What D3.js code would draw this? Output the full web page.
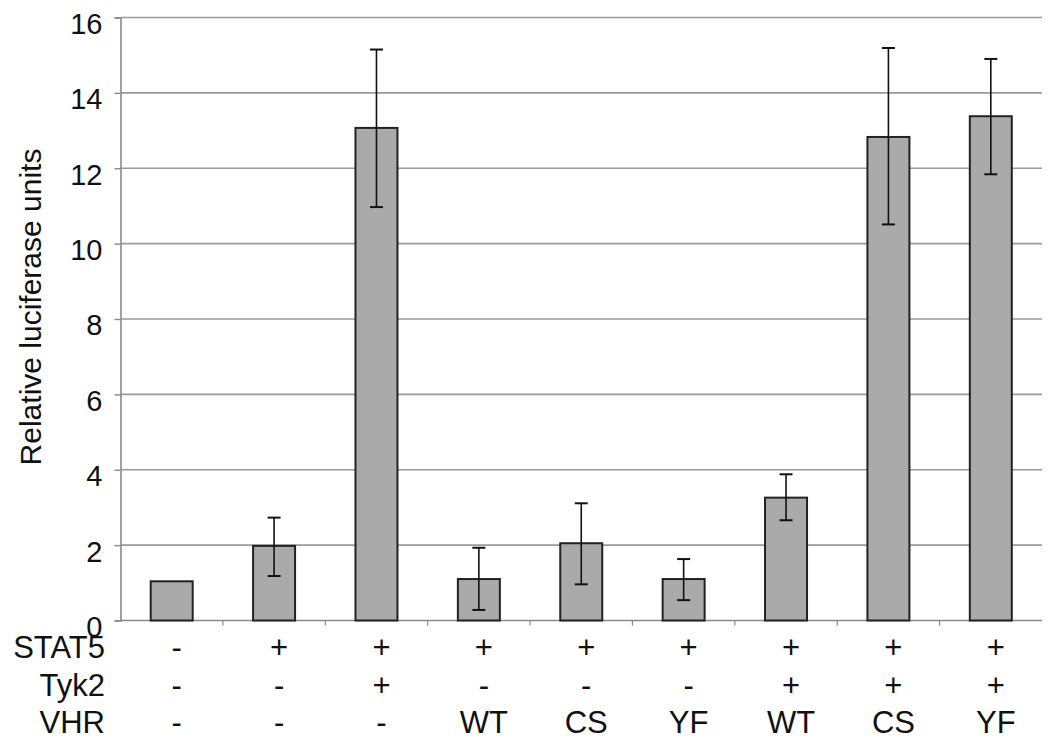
<!DOCTYPE html>
<html>
<head>
<meta charset="utf-8">
<script src="https://cdn.jsdelivr.net/npm/d3@7"></script>
<style>
  body { margin: 0; background: #fff; }
  text { font-family: "Liberation Sans", Arial, sans-serif; fill: #111; }
</style>
</head>
<body>
<div id="chart"></div>
<script>

// values

var conditions = ["c1", "c2", "c3", "c4", "c5", "c6", "c7", "c8", "c9"];
var means = [1.04, 1.98, 13.07, 1.10, 2.05, 1.10, 3.26, 12.83, 13.38];
var errLow = [null, 1.18, 10.97, 0.28, 0.96, 0.54, 2.66, 10.51, 11.84];
var errHigh = [null, 2.73, 15.15, 1.93, 3.11, 1.63, 3.88, 15.19, 14.90];

var rowNames = ["STAT5", "Tyk2", "VHR"];
var stat5 = ["-", "+", "+", "+", "+", "+", "+", "+", "+"];
var tyk2 = ["-", "-", "+", "-", "-", "-", "+", "+", "+"];
var vhr = ["-", "-", "-", "WT", "CS", "YF", "WT", "CS", "YF"];

var yTicks = [0, 2, 4, 6, 8, 10, 12, 14, 16];

// chart size

var svgWidth = 1050;
var svgHeight = 742;

var margin = { top: 17.5, right: 8, bottom: 121.5, left: 120.5 };

var width = svgWidth - margin.left - margin.right;
var height = svgHeight - margin.top - margin.bottom;

var svg = d3.select("#chart")
  .append("svg")
  .attr("width", svgWidth)
  .attr("height", svgHeight);

var chartGroup = svg.append("g")
  .attr("transform", `translate(${margin.left}, ${margin.top})`);

// scales

var xBandScale = d3.scaleBand()
  .domain(conditions)
  .range([0, width])
  .paddingInner(0.59)
  .paddingOuter(0.295);

var yLinearScale = d3.scaleLinear()
  .domain([0, 16])
  .range([height, 0]);

// gridlines

chartGroup.append("g")
  .selectAll("line")
  .data(yTicks.filter(d => d > 0))
  .enter()
  .append("line")
  .attr("x1", 0)
  .attr("x2", width)
  .attr("y1", d => yLinearScale(d))
  .attr("y2", d => yLinearScale(d))
  .attr("stroke", "#9a9a9a")
  .attr("stroke-width", 1.6);

// y axis

var leftAxis = d3.axisLeft(yLinearScale)
  .tickValues(yTicks)
  .tickSize(6)
  .tickPadding(18);

var yAxis = chartGroup.append("g").call(leftAxis);
yAxis.select(".domain").attr("stroke", "#8a8a8a").attr("stroke-width", 1.6);
yAxis.selectAll(".tick line").attr("stroke", "#8a8a8a").attr("stroke-width", 1.4);
yAxis.selectAll(".tick text")
  .attr("dy", "0.55em")
  .attr("x", -18)
  .style("font-size", "29px")
  .style("font-family", "'Liberation Sans', Arial, sans-serif")
  .attr("fill", "#111");

// x axis with ticks at band edges

var xAxisGroup = chartGroup.append("g")
  .attr("transform", `translate(0, ${height})`);

xAxisGroup.append("line")
  .attr("x1", 0)
  .attr("x2", width)
  .attr("stroke", "#8a8a8a")
  .attr("stroke-width", 1.6);

xAxisGroup.selectAll(".edge")
  .data(conditions.slice(1))
  .enter()
  .append("line")
  .attr("class", "edge")
  .attr("x1", d => xBandScale(d) - xBandScale.step() * xBandScale.paddingInner() / 2)
  .attr("x2", d => xBandScale(d) - xBandScale.step() * xBandScale.paddingInner() / 2)
  .attr("y1", 0)
  .attr("y2", 5)
  .attr("stroke", "#8a8a8a")
  .attr("stroke-width", 1.2);

// bars

chartGroup.selectAll("rect.bar")
  .data(means)
  .enter()
  .append("rect")
  .attr("class", "bar")
  .attr("x", (d, i) => xBandScale(conditions[i]))
  .attr("y", d => yLinearScale(d))
  .attr("width", xBandScale.bandwidth())
  .attr("height", d => height - yLinearScale(d))
  .attr("fill", "#aaaaaa")
  .attr("stroke", "#222")
  .attr("stroke-width", 2);

// error bars

var errGroup = chartGroup.append("g")
  .attr("stroke", "#111")
  .attr("stroke-width", 1.6);

var capHalf = 6.5;

conditions.forEach(function(c, i) {
  if (errLow[i] === null) return;
  var cx = xBandScale(c) + xBandScale.bandwidth() / 2;
  errGroup.append("line")
    .attr("x1", cx).attr("x2", cx)
    .attr("y1", yLinearScale(errLow[i]))
    .attr("y2", yLinearScale(errHigh[i]));
  [errLow[i], errHigh[i]].forEach(function(v) {
    errGroup.append("line")
      .attr("x1", cx - capHalf).attr("x2", cx + capHalf)
      .attr("y1", yLinearScale(v))
      .attr("y2", yLinearScale(v))
      .attr("stroke-width", 2);
  });
});

// y axis title

chartGroup.append("text")
  .attr("transform", "rotate(-90)")
  .attr("x", -(307 - margin.top))
  .attr("y", 41 - margin.left)
  .attr("text-anchor", "middle")
  .style("font-size", "30px")
  .text("Relative luciferase units");

// condition table below the axis

var rows = [stat5, tyk2, vhr];
var rowBaselines = [658, 696, 733];

rows.forEach(function(row, r) {
  svg.append("text")
    .attr("x", 105)
    .attr("y", rowBaselines[r])
    .attr("text-anchor", "end")
    .style("font-size", "31px")
    .text(rowNames[r]);

  svg.selectAll(null)
    .data(row)
    .enter()
    .append("text")
    .attr("x", (d, i) => margin.left + xBandScale(conditions[i]) + xBandScale.bandwidth() / 2 + 5)
    .attr("y", rowBaselines[r])
    .attr("text-anchor", "middle")
    .style("font-size", "31px")
    .text(d => d);
});

</script>
</body>
</html>
